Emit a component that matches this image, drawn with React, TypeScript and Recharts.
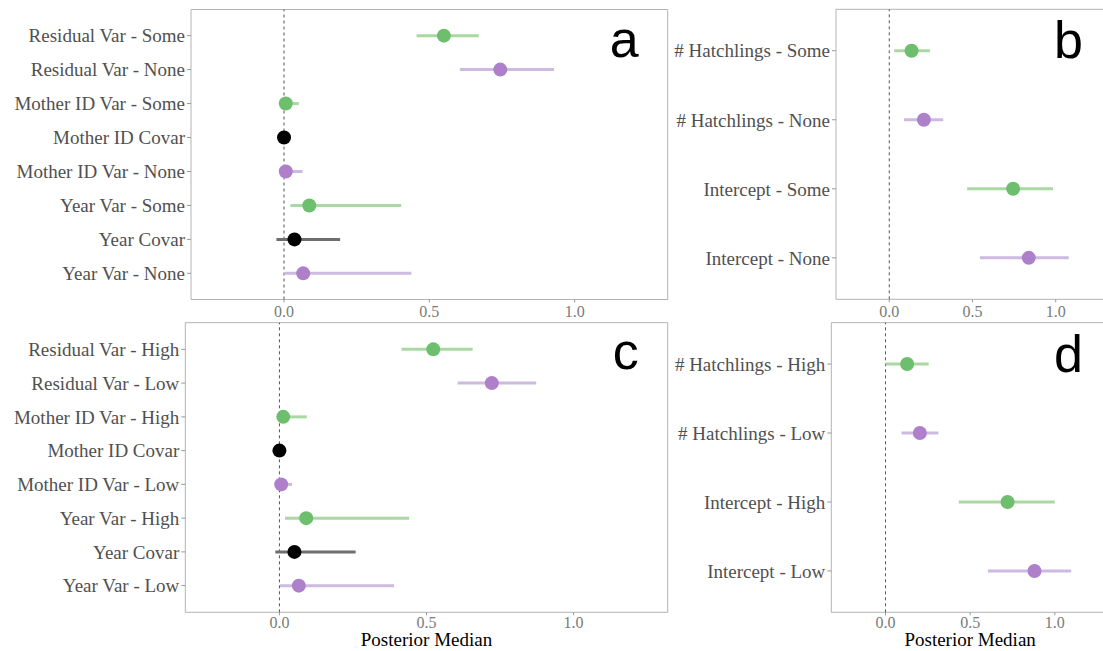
import React from "react";
import {
  ScatterChart,
  Scatter,
  XAxis,
  YAxis,
  ErrorBar,
  ReferenceLine,
  ReferenceArea,
} from "recharts";

// panel a
const aLabels = [
  "Residual Var - Some",
  "Residual Var - None",
  "Mother ID Var - Some",
  "Mother ID Covar",
  "Mother ID Var - None",
  "Year Var - Some",
  "Year Covar",
  "Year Var - None",
];
const aGroup = ["g", "p", "g", "k", "p", "g", "k", "p"];
const aMedian = [0.55, 0.744, 0.006, 0.0, 0.006, 0.087, 0.036, 0.066];
const aLower = [0.456, 0.605, 0.0, -0.005, 0.0, 0.022, -0.026, 0.002];
const aUpper = [0.67, 0.929, 0.051, 0.005, 0.064, 0.403, 0.193, 0.438];

// panel b
const bLabels = [
  "# Hatchlings - Some",
  "# Hatchlings - None",
  "Intercept - Some",
  "Intercept - None",
];
const bGroup = ["g", "p", "g", "p"];
const bMedian = [0.134, 0.208, 0.744, 0.838];
const bLower = [0.03, 0.088, 0.468, 0.544];
const bUpper = [0.244, 0.324, 0.984, 1.078];

// panel c
const cLabels = [
  "Residual Var - High",
  "Residual Var - Low",
  "Mother ID Var - High",
  "Mother ID Covar",
  "Mother ID Var - Low",
  "Year Var - High",
  "Year Covar",
  "Year Var - Low",
];
const cGroup = ["g", "p", "g", "k", "p", "g", "k", "p"];
const cMedian = [0.523, 0.722, 0.013, 0.0, 0.006, 0.091, 0.051, 0.066];
const cLower = [0.415, 0.606, 0.0, -0.005, 0.0, 0.019, -0.014, 0.002];
const cUpper = [0.657, 0.873, 0.093, 0.005, 0.043, 0.441, 0.259, 0.39];

// panel d
const dLabels = [
  "# Hatchlings - High",
  "# Hatchlings - Low",
  "Intercept - High",
  "Intercept - Low",
];
const dGroup = ["g", "p", "g", "p"];
const dMedian = [0.128, 0.203, 0.721, 0.88];
const dLower = [0.0, 0.095, 0.433, 0.605];
const dUpper = [0.255, 0.312, 1.0, 1.097];

const xTicks = [0, 0.5, 1];
const xDomain = [-0.32, 1.32];

const colors: Record<string, { dot: string; line: string }> = {
  g: { dot: "#6DBE6D", line: "#AAD8A3" },
  p: { dot: "#AE80CA", line: "#CDBADF" },
  k: { dot: "#000000", line: "#6E6E6E" },
};

const serif = "'Liberation Serif', 'Times New Roman', serif";

function Letter({ viewBox, letter, right, top }: any) {
  if (!viewBox) return null;
  return (
    <text
      x={viewBox.x + viewBox.width - right}
      y={viewBox.y + top}
      textAnchor="end"
      fontSize={52}
      fontFamily="'Liberation Sans', Arial, sans-serif"
      fill="#000"
    >
      {letter}
    </text>
  );
}

function Panel({
  labels,
  groups,
  median,
  lower,
  upper,
  pad,
  letter,
  letterRight,
  letterTop,
  xLabel,
  pos,
}: any) {
  const rows = labels.map((l: string, i: number) => ({
    y: i + 1,
    x: median[i],
    err: [median[i] - lower[i], upper[i] - median[i]],
    group: groups[i],
  }));
  const n = labels.length;
  const yDomain = [1 - pad, n + pad];

  return (
    <div style={{ position: "absolute", left: pos.left, top: pos.top }}>
      <ScatterChart
        width={pos.width}
        height={pos.height}
        margin={{ top: pos.mt, right: pos.mr, bottom: 0, left: 0 }}
      >
        <XAxis
          type="number"
          dataKey="x"
          domain={xDomain}
          allowDataOverflow
          ticks={xTicks}
          tickFormatter={(v: number) => v.toFixed(1)}
          axisLine={false}
          tickSize={3}
          tickMargin={xLabel ? 1 : 3}
          tickLine={{ stroke: "#999" }}
          tick={{ fill: "#7a7a7a", fontSize: 16, fontFamily: serif }}
          height={pos.xh}
          label={
            xLabel
              ? {
                  value: "Posterior Median",
                  position: "insideBottom",
                  offset: 5,
                  fill: "#000",
                  fontSize: 19,
                  fontFamily: serif,
                }
              : undefined
          }
        />
        <YAxis
          type="number"
          dataKey="y"
          domain={yDomain}
          allowDataOverflow
          reversed
          ticks={labels.map((_: string, i: number) => i + 1)}
          interval={0}
          tickFormatter={(v: number) => labels[v - 1]}
          axisLine={false}
          tickSize={4}
          tickMargin={2}
          tickLine={{ stroke: "#999" }}
          tick={{ fill: "#505050", fontSize: 19, fontFamily: serif }}
          width={pos.yw}
        />
        <ReferenceArea
          x1={xDomain[0]}
          x2={xDomain[1]}
          y1={yDomain[0]}
          y2={yDomain[1]}
          fill="none"
          fillOpacity={0}
          stroke="#b3b3b3"
          strokeWidth={1}
          ifOverflow="visible"
          label={<Letter letter={letter} right={letterRight} top={letterTop} />}
        />
        <ReferenceLine
          x={0}
          stroke="#555"
          strokeDasharray="3 3"
          strokeWidth={1}
        />
        {["g", "p", "k"].map((g) => (
          <Scatter
            key={g}
            data={rows.filter((r: any) => r.group === g)}
            isAnimationActive={false}
            shape={(p: any) => (
              <circle cx={p.cx} cy={p.cy} r={7} fill={colors[g].dot} />
            )}
          >
            <ErrorBar
              dataKey="err"
              direction="x"
              width={0}
              stroke={colors[g].line}
              strokeWidth={3}
              isAnimationActive={false}
            />
          </Scatter>
        ))}
      </ScatterChart>
    </div>
  );
}

export default function App() {
  return (
    <div
      style={{
        position: "absolute",
        left: 0,
        top: 0,
        width: 1103,
        height: 651,
        overflow: "hidden",
        background: "#fff",
      }}
    >
      <Panel
        labels={aLabels}
        groups={aGroup}
        median={aMedian}
        lower={aLower}
        upper={aUpper}
        pad={0.77}
        letter="a"
        letterRight={29}
        letterTop={47.5}
        xLabel={false}
        pos={{ left: 0, top: 0, width: 680, height: 322, mt: 9.5, mr: 12.3, yw: 191, xh: 22.5 }}
      />
      <Panel
        labels={cLabels}
        groups={cGroup}
        median={cMedian}
        lower={cLower}
        upper={cUpper}
        pad={0.79}
        letter="c"
        letterRight={29}
        letterTop={46.5}
        xLabel={true}
        pos={{ left: 0, top: 322, width: 680, height: 329, mt: 0.7, mr: 12.3, yw: 185.3, xh: 38.7 }}
      />
      <Panel
        labels={bLabels}
        groups={bGroup}
        median={bMedian}
        lower={bLower}
        upper={bUpper}
        pad={0.6}
        letter="b"
        letterRight={26}
        letterTop={48.7}
        xLabel={false}
        pos={{ left: 668, top: 0, width: 452, height: 322, mt: 9.3, mr: 11, yw: 168, xh: 22.7 }}
      />
      <Panel
        labels={dLabels}
        groups={dGroup}
        median={dMedian}
        lower={dLower}
        upper={dUpper}
        pad={0.6}
        letter="d"
        letterRight={26}
        letterTop={48.8}
        xLabel={true}
        pos={{ left: 668, top: 322, width: 452, height: 329, mt: 0.7, mr: 11, yw: 163.3, xh: 38.7 }}
      />
    </div>
  );
}
